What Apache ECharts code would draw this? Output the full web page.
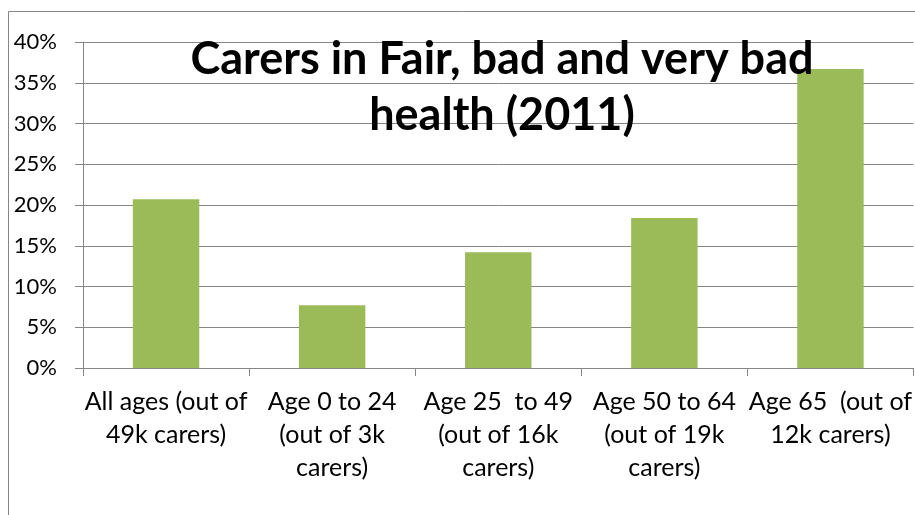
<!DOCTYPE html>
<html>
<head>
<meta charset="utf-8">
<script src="https://cdn.jsdelivr.net/npm/echarts@6/dist/echarts.min.js"></script>
<style>
    html, body { margin: 0; padding: 0; background: #fff; }
    #chart { width: 915px; height: 515px; }
</style>
</head>
<body>
<div id="chart"></div>
<script>
// data
const categories = [
    'All ages (out of\n49k carers)',
    'Age 0 to 24\n(out of 3k\ncarers)',
    'Age 25  to 49\n(out of 16k\ncarers)',
    'Age 50 to 64\n(out of 19k\ncarers)',
    'Age 65  (out of\n12k carers)'
];
const shareBadHealth = [0.207, 0.077, 0.142, 0.184, 0.367];
const yTicks = { min: 0, max: 0.4, step: 0.05 };

const gray = '#868686';
const chart = echarts.init(document.getElementById('chart'));

chart.setOption({
    animation: false,
    title: {
        text: 'Carers in Fair, bad and very bad\nhealth (2011)',
        left: 497,
        top: 26,
        textAlign: 'center',
        textStyle: {
            fontFamily: 'Lato',
            fontWeight: 'bold',
            fontSize: 45,
            lineHeight: 56,
            color: '#000'
        }
    },
    // outer chart frame
    graphic: [{
        type: 'rect',
        shape: { x: 8.5, y: 11.5, width: 1000, height: 1000 },
        style: { fill: 'none', stroke: gray, lineWidth: 1 },
        silent: true,
        z: -1
    }],
    grid: { left: 83, right: 1, top: 42, bottom: 147 },
    xAxis: {
        type: 'category',
        data: categories,
        axisLine: { lineStyle: { color: gray } },
        axisTick: { show: true, length: 8, lineStyle: { color: gray } },
        axisLabel: {
            interval: 0,
            margin: 17,
            fontFamily: 'Lato',
            fontSize: 25,
            lineHeight: 33,
            color: '#000'
        }
    },
    yAxis: {
        type: 'value',
        min: yTicks.min,
        max: yTicks.max,
        interval: yTicks.step,
        axisLine: { show: true, lineStyle: { color: gray } },
        axisTick: { show: true, length: 8, lineStyle: { color: gray } },
        splitLine: { lineStyle: { color: gray, width: 1 } },
        axisLabel: {
            margin: 26,
            fontFamily: 'Lato',
            fontSize: 22,
            color: '#000',
            formatter: v => Math.round(v * 100) + '%'
        }
    },
    series: [{
        type: 'bar',
        data: shareBadHealth,
        barWidth: '40%',
        itemStyle: { color: '#9BBB59' }
    }]
});
</script>
</body>
</html>
